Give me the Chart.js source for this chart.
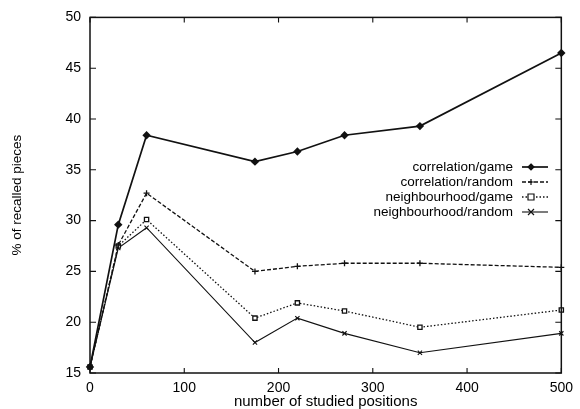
<!DOCTYPE html>
<html>

<head>
  <script src="https://cdn.jsdelivr.net/npm/chart.js"></script>
  <style>
    body { margin: 0; background: #fff; }
  </style>
</head>

<body>
  <canvas id="myChart" width="580" height="409"></canvas>
  <script type="text/javascript">
    // data
    var xs = [0, 30, 60, 175, 220, 270, 350, 500];
    var corrGame = [15.6, 29.6, 38.4, 35.8, 36.8, 38.4, 39.3, 46.5];
    var corrRandom = [15.6, 27.6, 32.7, 25.0, 25.5, 25.8, 25.8, 25.4];
    var neighGame = [15.6, 27.5, 30.1, 20.4, 21.9, 21.1, 19.5, 21.2];
    var neighRandom = [15.6, 27.3, 29.3, 18.0, 20.4, 18.9, 17.0, 18.9];
    var names = ['correlation/game', 'correlation/random', 'neighbourhood/game', 'neighbourhood/random'];

    var ink = '#111';
    var font = 'Liberation Sans, Arial, Helvetica, sans-serif';

    function pts(ys) {
      return xs.map(function (x, i) { return { x: x, y: ys[i] }; });
    }

    // draw a marker by style name (used for the legend samples)
    function marker(ctx, style, x, y, r, fill) {
      ctx.save();
      ctx.setLineDash([]);
      ctx.lineWidth = 1.2;
      ctx.strokeStyle = ink;
      ctx.fillStyle = fill;
      ctx.beginPath();
      if (style === 'rectRot') {
        ctx.moveTo(x, y - r); ctx.lineTo(x + r, y); ctx.lineTo(x, y + r); ctx.lineTo(x - r, y);
        ctx.closePath(); ctx.fill(); ctx.stroke();
      } else if (style === 'rect') {
        ctx.rect(x - r, y - r, 2 * r, 2 * r); ctx.fill(); ctx.stroke();
      } else if (style === 'cross') {
        ctx.moveTo(x - r, y); ctx.lineTo(x + r, y); ctx.moveTo(x, y - r); ctx.lineTo(x, y + r); ctx.stroke();
      } else {
        ctx.moveTo(x - r, y - r); ctx.lineTo(x + r, y + r); ctx.moveTo(x - r, y + r); ctx.lineTo(x + r, y - r); ctx.stroke();
      }
      ctx.restore();
    }

    // gnuplot style frame, inward ticks and the legend inside the plot
    var framePlugin = {
      id: 'frame',
      afterDatasetsDraw: function (chart) {
        var ctx = chart.ctx, a = chart.chartArea;
        var sx = chart.scales.x, sy = chart.scales.y;
        ctx.save();
        ctx.strokeStyle = ink;
        ctx.lineWidth = 1.5;
        ctx.strokeRect(a.left, a.top, a.right - a.left, a.bottom - a.top);
        ctx.lineWidth = 1.1;
        ctx.beginPath();
        sx.ticks.forEach(function (t) {
          var px = sx.getPixelForValue(t.value);
          ctx.moveTo(px, a.bottom); ctx.lineTo(px, a.bottom - 5);
          ctx.moveTo(px, a.top); ctx.lineTo(px, a.top + 5);
        });
        sy.ticks.forEach(function (t) {
          var py = sy.getPixelForValue(t.value);
          ctx.moveTo(a.left, py); ctx.lineTo(a.left + 6, py);
          ctx.moveTo(a.right, py); ctx.lineTo(a.right - 6, py);
        });
        ctx.stroke();

        // legend
        ctx.font = '13.5px ' + font;
        ctx.fillStyle = '#000';
        ctx.textAlign = 'right';
        ctx.textBaseline = 'middle';
        chart.data.datasets.forEach(function (ds, i) {
          var y = 167 + i * 15;
          ctx.fillText(ds.label, 513, y);
          ctx.save();
          ctx.strokeStyle = ink;
          ctx.lineWidth = ds.borderWidth;
          ctx.setLineDash(ds.borderDash || []);
          ctx.beginPath();
          ctx.moveTo(522, y); ctx.lineTo(548, y);
          ctx.stroke();
          ctx.restore();
          marker(ctx, ds.pointStyle, 531, y, ds.pointRadius, ds.pointBackgroundColor);
        });
        ctx.restore();
      }
    };

    var ctx = document.getElementById('myChart').getContext('2d');
    var chart = new Chart(ctx, {
      type: 'line',
      data: {
        datasets: [{
          label: names[0],
          data: pts(corrGame),
          borderColor: ink,
          borderWidth: 1.7,
          pointStyle: 'rectRot',
          pointRadius: 3,
          pointBackgroundColor: ink,
          pointBorderColor: ink,
        }, {
          label: names[1],
          data: pts(corrRandom),
          borderColor: ink,
          borderWidth: 1.3,
          borderDash: [4, 2],
          pointStyle: 'cross',
          pointRadius: 3,
          pointBackgroundColor: ink,
          pointBorderColor: ink,
        }, {
          label: names[2],
          data: pts(neighGame),
          borderColor: ink,
          borderWidth: 1.3,
          borderDash: [1.5, 2],
          pointStyle: 'rect',
          pointRadius: 3,
          pointBackgroundColor: '#fff',
          pointBorderColor: ink,
        }, {
          label: names[3],
          data: pts(neighRandom),
          borderColor: ink,
          borderWidth: 1.1,
          pointStyle: 'crossRot',
          pointRadius: 3,
          pointBackgroundColor: ink,
          pointBorderColor: ink,
        }]
      },
      options: {
        responsive: false,
        animation: false,
        clip: false,
        layout: { padding: { top: 14, right: 18, left: 0, bottom: 0 } },
        elements: { line: { tension: 0, fill: false }, point: { borderWidth: 1.3 } },
        plugins: { legend: { display: false }, tooltip: { enabled: false } },
        scales: {
          x: {
            type: 'linear',
            min: 0,
            max: 500,
            afterFit: function (s) { s.height = 36; },
            grid: { display: false, drawTicks: false },
            border: { display: false },
            ticks: { stepSize: 100, padding: 7, color: '#000', font: { family: font, size: 14 } },
            title: {
              display: true,
              text: 'number of studied positions',
              color: '#000',
              padding: { top: 0, bottom: 0 },
              font: { family: font, size: 15, lineHeight: 1 }
            }
          },
          y: {
            min: 15,
            max: 50,
            afterFit: function (s) { s.width = 90; },
            grid: { display: false, drawTicks: false },
            border: { display: false },
            ticks: { stepSize: 5, padding: 9, color: '#000', font: { family: font, size: 14 } },
            title: {
              display: true,
              text: '% of recalled pieces',
              color: '#000',
              padding: { top: 11, bottom: 0 },
              font: { family: font, size: 13.5, lineHeight: 1 }
            }
          }
        }
      },
      plugins: [framePlugin]
    });
  </script>
</body>

</html>
